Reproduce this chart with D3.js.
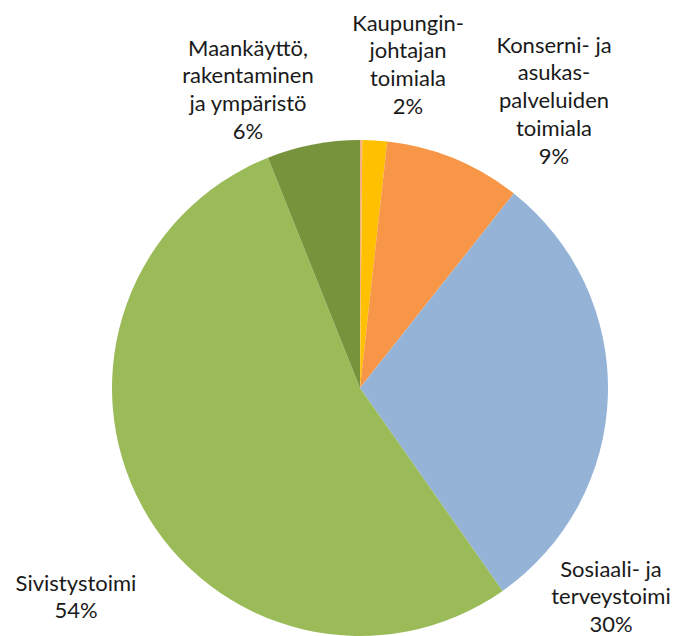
<!DOCTYPE html>
<html lang="fi">
<head>
<meta charset="UTF-8">
<title>Toimialat</title>
<script src="https://d3js.org/d3.v7.min.js"></script>
<style>
  body { margin: 0; background: #fff; }
  svg text { font-family: Lato, 'Open Sans', sans-serif; fill: #1a1a1a; }
</style>
</head>
<body>
<div id="chart"></div>
<script>
// slice data, clockwise from 12 o'clock
const names = ['', 'Kaupungin-\njohtajan\ntoimiala', 'Konserni- ja\nasukas-\npalveluiden\ntoimiala',
  'Sosiaali- ja\nterveystoimi', 'Sivistystoimi', 'Maankäyttö,\nrakentaminen\nja ympäristö'];
const values = [0.15, 1.6, 8.9, 29.6, 53.7, 6.05];
const pctLabels = ['', '2%', '9%', '30%', '54%', '6%'];
const colors = ['#F4B183', '#FFC000', '#F79646', '#95B3D7', '#9BBB59', '#77933C'];

// where Excel put each label block (centre x, first line centre y)
const labelPos = [null, [408, 22], [554, 44], [611, 568], [76, 582], [248, 47]];

const width = 677, height = 636;
const cx = 360, cy = 388, radius = 248;
const lineH = 27.8;

const svg = d3.select('#chart').append('svg')
  .attr('width', width).attr('height', height);

const pie = d3.pie().sort(null).value(d => d)(values);
const arc = d3.arc().innerRadius(0).outerRadius(radius);

svg.append('g')
  .attr('transform', `translate(${cx},${cy})`)
  .selectAll('path')
  .data(pie)
  .join('path')
  .attr('d', arc)
  .attr('fill', (d, i) => colors[i]);

names.forEach((n, i) => {
  if (!labelPos[i]) return;
  const lines = n.split('\n').concat([pctLabels[i]]);
  const t = svg.append('text')
    .attr('text-anchor', 'middle')
    .attr('font-size', 22);
  lines.forEach((l, j) => {
    t.append('tspan')
      .attr('x', labelPos[i][0])
      .attr('y', labelPos[i][1] + j * lineH)
      .attr('dominant-baseline', 'central')
      .text(l);
  });
});
</script>
</body>
</html>
